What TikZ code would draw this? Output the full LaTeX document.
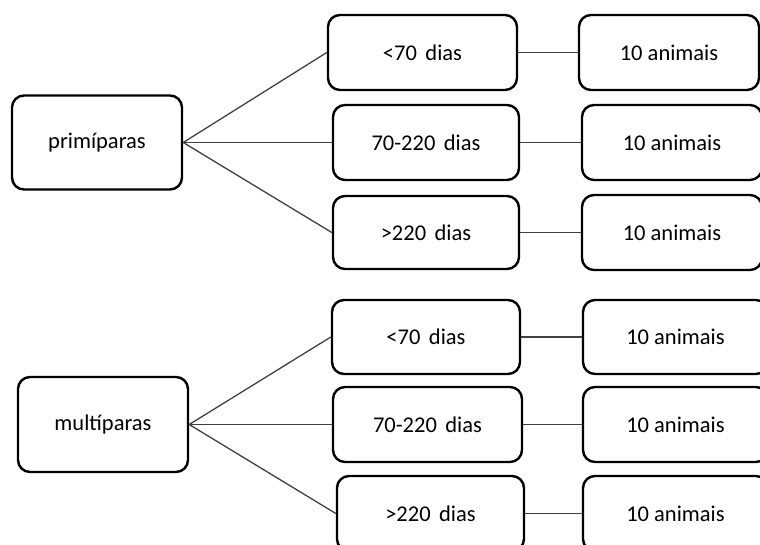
\documentclass[tikz,border=0pt]{standalone}
\usepackage{fontspec}
\setmainfont{Carlito}
\begin{document}
\begin{tikzpicture}[x=1pt,y=-1pt,
  box/.style={draw, line width=2.4pt, rounded corners=12pt, inner sep=0pt, minimum height=75pt, font=\fontsize{22.5}{26}\selectfont},
  link/.style={line width=1.3pt, draw=black!75}]
\useasboundingbox (0,0) rectangle (760,545);
\clip (0,0) rectangle (760,545);
% primiparas
\node[box, minimum width=170pt, minimum height=94pt] (prim) at (97,142.5) {primíparas};
\node[box, minimum width=189pt] (pa) at (422.5,52.5) {<70 \hspace{0.15em}dias};
\node[box, minimum width=186pt] (pb) at (426,142.5) {70-220 \hspace{0.15em}dias};
\node[box, minimum width=186pt, minimum height=73pt] (pc) at (426,232.5) {>220 \hspace{0.15em}dias};
\node[box, minimum width=180pt] (pan) at (669,52.5) {10 animais};
\node[box, minimum width=180pt] (pbn) at (672,142.5) {10 animais};
\node[box, minimum width=180pt] (pcn) at (672,232.5) {10 animais};
\draw[link] (prim.east) -- (pa.west);
\draw[link] (prim.east) -- (pb.west);
\draw[link] (prim.east) -- (pc.west);
\draw[link] (pa) -- (pan);
\draw[link] (pb) -- (pbn);
\draw[link] (pc) -- (pcn);
% multiparas
\node[box, minimum width=170pt, minimum height=95pt] (mult) at (103,424.5) {multíparas};
\node[box, minimum width=188pt, minimum height=74pt] (ma) at (426,337) {<70 \hspace{0.15em}dias};
\node[box, minimum width=189pt] (mb) at (427.5,424.5) {70-220 \hspace{0.15em}dias};
\node[box, minimum width=187pt] (mc) at (430.5,513.5) {>220 \hspace{0.15em}dias};
\node[box, minimum width=185pt, minimum height=74pt] (man) at (675.5,337) {10 animais};
\node[box, minimum width=185pt] (mbn) at (675.5,424.5) {10 animais};
\node[box, minimum width=185pt] (mcn) at (675.5,513.5) {10 animais};
\draw[link] (mult.east) -- (ma.west);
\draw[link] (mult.east) -- (mb.west);
\draw[link] (mult.east) -- (mc.west);
\draw[link] (ma) -- (man);
\draw[link] (mb) -- (mbn);
\draw[link] (mc) -- (mcn);
\end{tikzpicture}
\end{document}
